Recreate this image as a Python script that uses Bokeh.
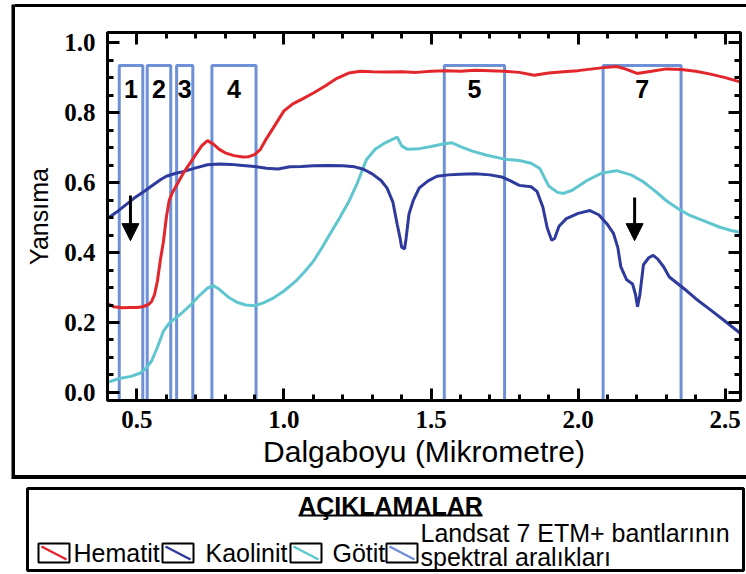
from bokeh.plotting import figure
from bokeh.layouts import column, row
from bokeh.models import (LinearAxis, FixedTicker, PrintfTickFormatter, Range1d,
                          Arrow, NormalHead, Spacer)
from bokeh.embed import file_html
from bokeh.resources import INLINE
from bokeh.core.properties import value

# Reflectance spectra, wavelength in micrometres
hematite_wl = [0.40, 0.42, 0.45, 0.48, 0.50, 0.52, 0.54, 0.55, 0.56, 0.57, 0.58, 0.59,
               0.60, 0.61, 0.62, 0.64, 0.66, 0.68, 0.70, 0.72, 0.74, 0.76, 0.78, 0.80,
               0.83, 0.86, 0.88, 0.90, 0.92, 0.94, 0.97, 1.00, 1.03, 1.06, 1.10, 1.14,
               1.18, 1.22, 1.26, 1.30, 1.35, 1.40, 1.45, 1.50, 1.55, 1.60, 1.65, 1.70,
               1.75, 1.80, 1.85, 1.90, 1.95, 2.00, 2.05, 2.10, 2.13, 2.16, 2.20, 2.25,
               2.30, 2.35, 2.40, 2.45, 2.50, 2.55]
hematite_r = [0.254, 0.245, 0.242, 0.243, 0.243, 0.245, 0.252, 0.26, 0.28, 0.32, 0.38, 0.43,
              0.50, 0.55, 0.57, 0.60, 0.63, 0.655, 0.68, 0.705, 0.72, 0.71, 0.695, 0.685,
              0.677, 0.673, 0.674, 0.68, 0.695, 0.725, 0.765, 0.805, 0.825, 0.838, 0.856, 0.876,
              0.898, 0.913, 0.918, 0.917, 0.916, 0.917, 0.915, 0.918, 0.92, 0.918, 0.921, 0.92,
              0.918, 0.915, 0.907, 0.913, 0.917, 0.92, 0.925, 0.93, 0.932, 0.925, 0.912, 0.918,
              0.925, 0.923, 0.918, 0.91, 0.90, 0.888]

kaolinite_wl = [0.40, 0.43, 0.46, 0.49, 0.52, 0.55, 0.58, 0.60, 0.63, 0.66, 0.70, 0.74,
                0.78, 0.82, 0.86, 0.90, 0.94, 0.98, 1.02, 1.06, 1.10, 1.15, 1.20, 1.24,
                1.27, 1.30, 1.33, 1.35, 1.37, 1.385, 1.395, 1.40, 1.41, 1.415, 1.425, 1.44,
                1.46, 1.49, 1.52, 1.56, 1.60, 1.65, 1.70, 1.74, 1.77, 1.80, 1.84, 1.86,
                1.88, 1.895, 1.91, 1.92, 1.935, 1.96, 2.00, 2.04, 2.07, 2.10, 2.12, 2.135,
                2.145, 2.165, 2.185, 2.195, 2.202, 2.21, 2.222, 2.24, 2.255, 2.27, 2.29, 2.31,
                2.34, 2.37, 2.40, 2.45, 2.49, 2.52, 2.55]
kaolinite_r = [0.497, 0.515, 0.535, 0.555, 0.572, 0.59, 0.608, 0.618, 0.626, 0.632, 0.642, 0.651,
               0.653, 0.652, 0.649, 0.646, 0.641, 0.639, 0.645, 0.646, 0.648, 0.649, 0.648, 0.645,
               0.638, 0.625, 0.606, 0.585, 0.545, 0.48, 0.44, 0.415, 0.41, 0.44, 0.51, 0.55,
               0.585, 0.605, 0.618, 0.622, 0.624, 0.625, 0.622, 0.616, 0.605, 0.592, 0.588, 0.575,
               0.53, 0.47, 0.435, 0.44, 0.475, 0.497, 0.512, 0.52, 0.508, 0.48, 0.455, 0.414,
               0.36, 0.322, 0.31, 0.28, 0.245, 0.28, 0.365, 0.385, 0.392, 0.382, 0.36, 0.33,
               0.31, 0.29, 0.268, 0.236, 0.21, 0.19, 0.17]

goethite_wl = [0.40, 0.44, 0.48, 0.51, 0.53, 0.55, 0.57, 0.59, 0.61, 0.63, 0.65, 0.68,
               0.71, 0.74, 0.76, 0.78, 0.81, 0.84, 0.87, 0.90, 0.93, 0.96, 1.00, 1.04,
               1.07, 1.10, 1.13, 1.16, 1.19, 1.22, 1.25, 1.28, 1.31, 1.34, 1.36, 1.385,
               1.40, 1.42, 1.46, 1.50, 1.54, 1.57, 1.60, 1.64, 1.69, 1.75, 1.80, 1.84,
               1.87, 1.90, 1.93, 1.95, 1.98, 2.03, 2.08, 2.13, 2.18, 2.22, 2.26, 2.30,
               2.34, 2.38, 2.43, 2.48, 2.52, 2.55]
goethite_r = [0.029, 0.04, 0.046, 0.055, 0.068, 0.09, 0.13, 0.175, 0.198, 0.212, 0.225, 0.248,
              0.275, 0.298, 0.306, 0.295, 0.273, 0.258, 0.25, 0.248, 0.256, 0.268, 0.29, 0.318,
              0.345, 0.375, 0.415, 0.458, 0.50, 0.545, 0.60, 0.665, 0.695, 0.712, 0.72, 0.73,
              0.705, 0.695, 0.697, 0.703, 0.71, 0.714, 0.703, 0.69, 0.678, 0.667, 0.663, 0.655,
              0.64, 0.59, 0.572, 0.569, 0.578, 0.606, 0.627, 0.634, 0.622, 0.603, 0.577, 0.548,
              0.525, 0.506, 0.49, 0.473, 0.463, 0.458]

# Landsat 7 ETM+ spectral bands
band_names = ["1", "2", "3", "4", "5", "7"]
band_start = [0.44, 0.535, 0.635, 0.755, 1.545, 2.085]
band_end = [0.52, 0.615, 0.69, 0.905, 1.75, 2.35]
band_top = 0.935
band_label_y = 0.868

# Absorption markers
arrow_wl = [0.478, 2.192]
arrow_from = [0.563, 0.557]
arrow_to = [0.434, 0.434]

x_ticks = [0.5, 1.0, 1.5, 2.0, 2.5]
x_minor = [round(0.4 + 0.1 * i, 2) for i in range(22)]
y_ticks = [0.0, 0.2, 0.4, 0.6, 0.8, 1.0]
y_minor = [round(0.05 * i, 2) for i in range(21)]

legend_title = "AÇIKLAMALAR"
legend_labels = ["Hematit", "Kaolinit", "Götit"]
legend_band_lines = ["Landsat 7 ETM+ bantlarının", "spektral aralıkları"]

RED = "#e3262c"
NAVY = "#2e3a9c"
CYAN = "#5fc6cf"
BAND = "#6d90d6"

X0, X1 = 0.40, 2.552
Y0, Y1 = -0.023, 1.029

# ---- main chart -------------------------------------------------------------
p = figure(width=731, height=468, x_range=Range1d(X0, X1), y_range=Range1d(Y0, Y1),
           output_backend="svg", toolbar_location=None, title=None,
           min_border_left=92, min_border_right=6, min_border_top=25, min_border_bottom=75,
           x_axis_label="Dalgaboyu (Mikrometre)", y_axis_label="Yansıma")
p.grid.visible = False
p.outline_line_color = "black"
p.outline_line_width = 3
p.background_fill_color = "white"
p.border_fill_color = "white"

top_axis = LinearAxis()
right_axis = LinearAxis()
p.add_layout(top_axis, "above")
p.add_layout(right_axis, "right")
bottom_axis = p.below[0]
left_axis = p.left[0]

for ax in (bottom_axis, top_axis):
    ax.ticker = FixedTicker(ticks=x_ticks, minor_ticks=x_minor)
for ax in (left_axis, right_axis):
    ax.ticker = FixedTicker(ticks=y_ticks, minor_ticks=y_minor)

for ax in (bottom_axis, top_axis, left_axis, right_axis):
    ax.formatter = PrintfTickFormatter(format="%.1f")
    ax.axis_line_width = 3
    ax.major_tick_line_width = 3
    ax.minor_tick_line_width = 3
    ax.major_tick_in = 12
    ax.major_tick_out = 0
    ax.minor_tick_in = 6
    ax.minor_tick_out = 0
    ax.major_label_text_font = "Liberation Serif"
    ax.major_label_text_font_style = "bold"
    ax.major_label_text_font_size = "25px"
    ax.major_label_text_color = "black"
    ax.axis_label_text_font = "Liberation Sans"
    ax.axis_label_text_font_style = "normal"
    ax.axis_label_text_color = "black"

# mirrored axes carry ticks only
for ax in (top_axis, right_axis):
    ax.major_label_text_color = None
    ax.major_label_text_alpha = 0
    ax.major_label_standoff = 0

bottom_axis.major_label_standoff = 10
bottom_axis.axis_label_text_font_size = "30px"
bottom_axis.axis_label_standoff = 4
left_axis.major_label_standoff = 12
left_axis.axis_label_text_font_size = "25px"
left_axis.axis_label_standoff = 8

# Spectral band windows
p.quad(left=band_start, right=band_end, bottom=Y0, top=band_top,
       fill_color=None, line_color=BAND, line_width=3)

# Mineral spectra
p.line(goethite_wl, goethite_r, line_color=CYAN, line_width=3)
p.line(kaolinite_wl, kaolinite_r, line_color=NAVY, line_width=3)
p.line(hematite_wl, hematite_r, line_color=RED, line_width=3)

band_mid = [(a + b) / 2 for a, b in zip(band_start, band_end)]
p.text(x=band_mid, y=[band_label_y] * len(band_names), text=band_names,
       text_font=value("Liberation Sans"), text_font_style="bold",
       text_font_size="25px", text_align="center", text_baseline="middle",
       text_color="black")

for wl, y_a, y_b in zip(arrow_wl, arrow_from, arrow_to):
    p.add_layout(Arrow(end=NormalHead(size=17, fill_color="black", line_color="black"),
                       x_start=wl, y_start=y_a, x_end=wl, y_end=y_b,
                       line_color="black", line_width=3))


# ---- frame pieces around the chart panel --------------------------------------
def side_strip(w, h):
    s = figure(width=w, height=h, x_range=Range1d(0, 1), y_range=Range1d(0, 1),
               output_backend="svg", toolbar_location=None, title=None,
               x_axis_location=None, y_axis_location=None, min_border=0,
               background_fill_color="black", border_fill_color="black",
               outline_line_color=None)
    s.grid.visible = False
    return s


def rule(w, h):
    return Spacer(width=w, height=h, styles={"background-color": "black"})


# ---- legend panel (page-pixel coordinates, y downwards) -----------------------
leg = figure(width=746, height=95, x_range=Range1d(27, 743), y_range=Range1d(570, 488),
             output_backend="svg", toolbar_location=None, title=None,
             x_axis_location=None, y_axis_location=None,
             min_border_left=27, min_border_right=3, min_border_top=9, min_border_bottom=4,
             outline_line_color="black", outline_line_width=3)
leg.grid.visible = False

leg.text(x=[390], y=[505], text=[legend_title], text_font=value("Liberation Sans"),
         text_font_style="bold", text_font_size="25px", text_align="center",
         text_baseline="middle", text_color="black")
leg.segment(x0=[298], y0=[515], x1=[482], y1=[515], line_color="black", line_width=2)

icon_left = [38, 162, 290, 386]
icon_colors = [RED, NAVY, CYAN, BAND]
leg.quad(left=icon_left, right=[v + 31 for v in icon_left], top=543, bottom=562,
         fill_color=None, line_color="black", line_width=2)
leg.segment(x0=[v + 3 for v in icon_left], y0=546, x1=[v + 28 for v in icon_left], y1=559,
            line_color=icon_colors, line_width=2.5)

leg.text(x=[73, 205, 332], y=[552] * 3, text=legend_labels,
         text_font=value("Liberation Sans"), text_font_size="25px",
         text_align="left", text_baseline="middle", text_color="black")
leg.text(x=[420, 420], y=[532, 556], text=legend_band_lines,
         text_font=value("Liberation Sans"), text_font_size="25px",
         text_align="left", text_baseline="middle", text_color="black")

page = column(
    Spacer(width=746, height=4),
    row(Spacer(width=11, height=475), side_strip(4, 475),
        column(rule(731, 3), p, rule(731, 4))),
    leg,
)

open("out.html", "w").write(file_html(page, INLINE))
